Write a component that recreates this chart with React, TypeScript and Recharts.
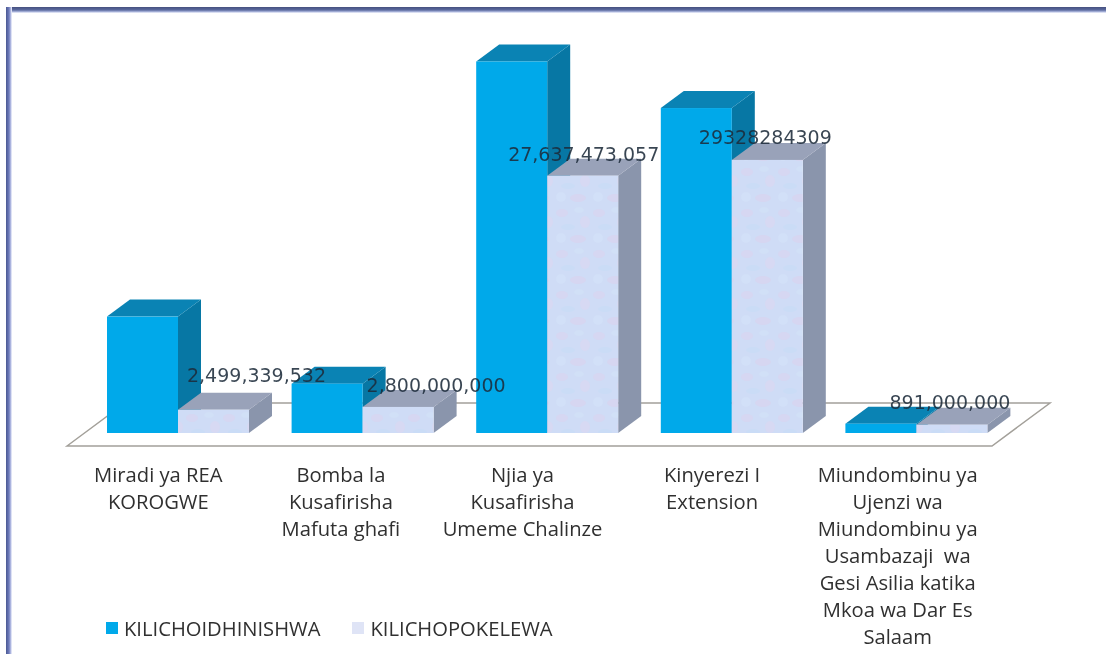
import { BarChart, Bar, XAxis, YAxis, Legend, LabelList } from "recharts";

const categories = [
  "Miradi ya REA\nKOROGWE",
  "Bomba la\nKusafirisha\nMafuta ghafi",
  "Njia ya\nKusafirisha\nUmeme Chalinze",
  "Kinyerezi I\nExtension",
  "Miundombinu ya\nUjenzi wa\nMiundombinu ya\nUsambazaji  wa\nGesi Asilia katika\nMkoa wa Dar Es\nSalaam",
];
const approved = [12500000000, 5300000000, 39900000000, 34900000000, 1000000000];
const received = [2499339532, 2800000000, 27637473057, 29328284309, 891000000];
const receivedLabels = [
  "2,499,339,532",
  "2,800,000,000",
  "27,637,473,057",
  "29328284309",
  "891,000,000",
];

// the labels were dragged around by hand in the original
const labelNudges = [
  [43, -35],
  [38, -22],
  [1, -22],
  [-2, -23],
  [-2, -23],
];
// category text sits left of the bars, under the front edge of the floor
const tickNudges = [-20, -22, -25, -20, -19];

const chartData = categories.map((name, i) => ({
  name,
  approved: approved[i],
  received: received[i],
}));

const BLUE = "#00a9ea";
const LAVENDER = "#cfdcf6";
const DEPTH_X = 23;
const DEPTH_Y = 17;

const Box3D = (props: any) => {
  const { x, y, width, height, front, top, side } = props;
  const r = x + width;
  const b = y + height;
  return (
    <g>
      <polygon
        points={`${r},${y} ${r + DEPTH_X},${y - DEPTH_Y} ${r + DEPTH_X},${b - DEPTH_Y} ${r},${b}`}
        fill={side}
      />
      <polygon
        points={`${x},${y} ${x + DEPTH_X},${y - DEPTH_Y} ${r + DEPTH_X},${y - DEPTH_Y} ${r},${y}`}
        fill={top}
      />
      <rect x={x} y={y} width={width} height={height} fill={front} />
    </g>
  );
};

const CategoryTick = ({ x, y, payload, index }: any) => {
  const cx = x + tickNudges[index];
  return (
    <text
      x={cx}
      y={y}
      textAnchor="middle"
      fontFamily="'Open Sans', sans-serif"
      fontSize={20.2}
      fill="#303030"
      xmlSpace="preserve"
    >
      {String(payload.value)
        .split("\n")
        .map((line, i) => (
          <tspan key={i} x={cx} y={y + 40.5 + i * 27}>
            {line}
          </tspan>
        ))}
    </text>
  );
};

const ValueLabel = ({ x, y, width, index }: any) => (
  <text
    x={x + width / 2 + labelNudges[index][0]}
    y={y + labelNudges[index][1] + 7}
    textAnchor="middle"
    fontFamily="'DejaVu Sans', sans-serif"
    fontSize={19}
    fill="#1d2b3a"
    fillOpacity={0.88}
  >
    {receivedLabels[index]}
  </text>
);

const ChartLegend = ({ payload }: any) => (
  <div style={{ display: "flex", fontFamily: "'Open Sans', sans-serif", fontSize: 20.2, color: "#303030" }}>
    {(payload ?? []).map((entry: any, i: number) => (
      <span
        key={entry.value}
        style={{ display: "inline-flex", alignItems: "center", marginRight: i === 0 ? 32 : 0 }}
      >
        <span
          style={{
            width: 12,
            height: 12,
            marginRight: 6,
            background: i === 0 ? BLUE : "#dfe4f6",
          }}
        />
        {entry.value}
      </span>
    ))}
  </div>
);

export default function App() {
  return (
    <div
      style={{
        position: "absolute",
        left: 0,
        top: 0,
        width: 1106,
        height: 654,
        overflow: "hidden",
        background: "#fff",
      }}
    >
      {/* frame: only the top and left edges show, dark outside and fading inwards */}
      <div
        style={{
          position: "absolute",
          left: 6,
          top: 7,
          width: 1100,
          height: 6,
          background: "linear-gradient(to bottom, #45507f, #5b6a9f 50%, #b9c2e6 85%, #ffffff)",
        }}
      />
      <div
        style={{
          position: "absolute",
          left: 6,
          top: 7,
          width: 6,
          height: 647,
          background: "linear-gradient(to right, #4a5892, #6f7cbc 50%, #c3caec 85%, #ffffff)",
        }}
      />
      <div style={{ position: "absolute", left: 0, top: 0, filter: "blur(0.7px)" }}>
        <BarChart
          width={1106}
          height={654}
          data={chartData}
          barSize={71}
          barGap={0}
          margin={{ top: 14, right: 97, bottom: 0, left: 86 }}
        >
          <defs>
            <pattern id="mottle" width="37" height="41" patternUnits="userSpaceOnUse">
              <rect width="37" height="41" fill={LAVENDER} />
              <ellipse cx="7" cy="8" rx="6" ry="4" fill="#d6d7f2" />
              <ellipse cx="24" cy="5" rx="5" ry="3" fill="#d1e0f7" />
              <ellipse cx="30" cy="17" rx="5" ry="6" fill="#d7d9f3" />
              <ellipse cx="13" cy="22" rx="7" ry="3" fill="#cadcf6" />
              <ellipse cx="6" cy="33" rx="5" ry="5" fill="#d2e0f8" />
              <ellipse cx="23" cy="34" rx="8" ry="4" fill="#d6d6f1" />
            </pattern>
          </defs>
          <polygon
            points="67,446 125,403 1050,403 992,446"
            fill="#fff"
            stroke="#a3a09a"
            strokeWidth={1.5}
          />
          <XAxis
            dataKey="name"
            height={221}
            axisLine={false}
            tickLine={false}
            interval={0}
            tick={<CategoryTick />}
          />
          <YAxis hide domain={[0, 45000000000]} />
          <Legend
            layout="horizontal"
            verticalAlign="middle"
            align="center"
            content={<ChartLegend />}
            wrapperStyle={{ position: "absolute", left: 106, top: 614, width: 500, height: 28 }}
          />
          <Bar
            dataKey="approved"
            name="KILICHOIDHINISHWA"
            fill={BLUE}
            isAnimationActive={false}
            shape={<Box3D front={BLUE} top="#0a83b4" side="#0777a4" />}
          />
          <Bar
            dataKey="received"
            name="KILICHOPOKELEWA"
            fill="#d6dff5"
            isAnimationActive={false}
            shape={<Box3D front="url(#mottle)" top="#99a2b9" side="#8a95ac" />}
          >
            <LabelList dataKey="received" content={<ValueLabel />} />
          </Bar>
        </BarChart>
      </div>
    </div>
  );
}
